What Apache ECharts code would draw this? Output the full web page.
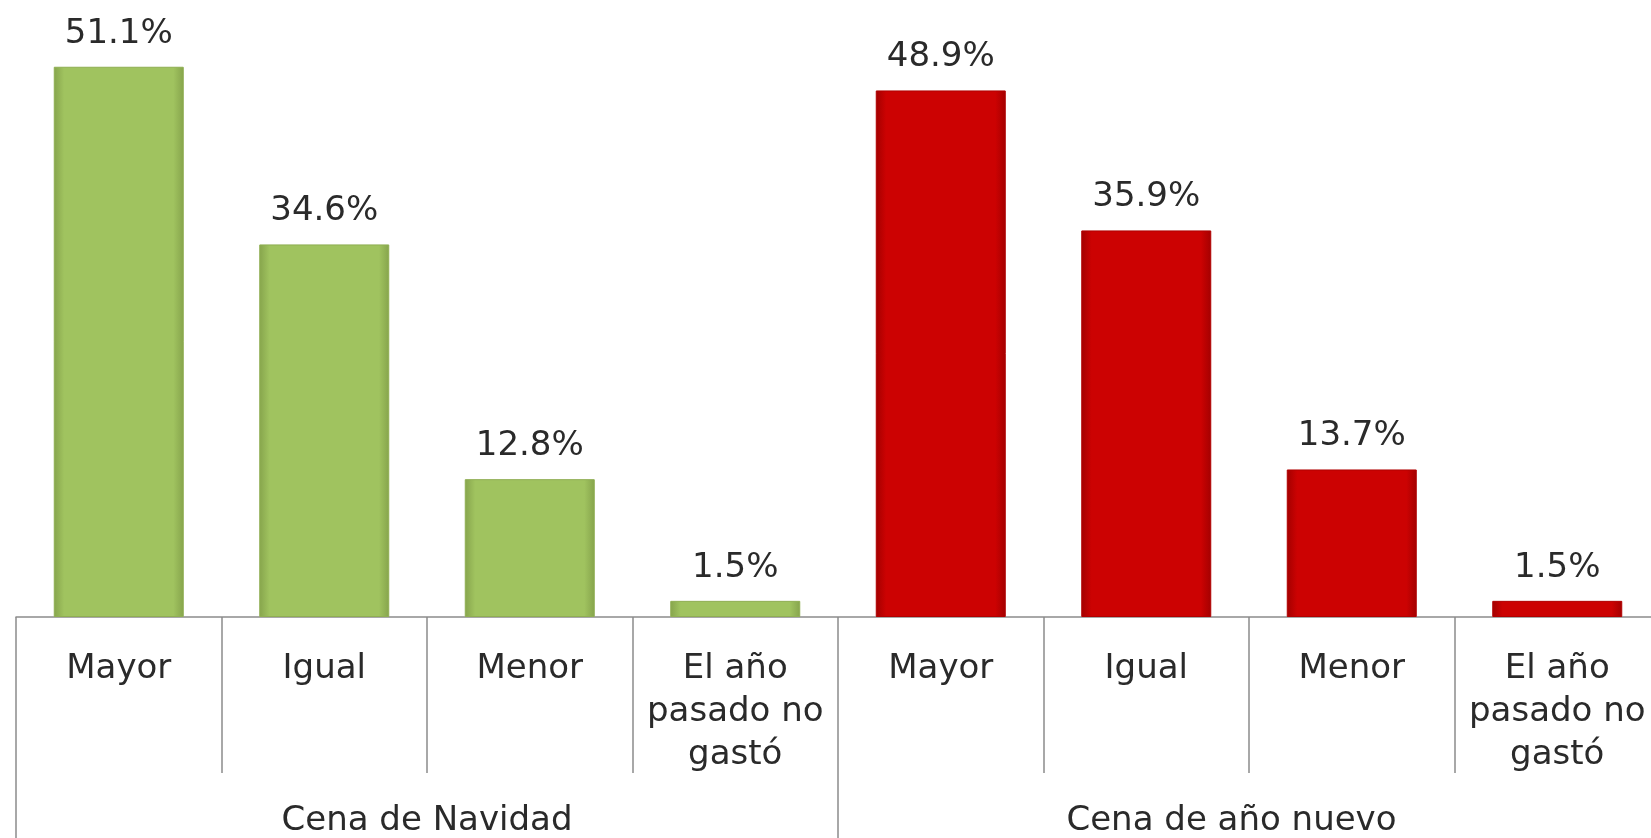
<!DOCTYPE html>
<html>
<head>
<meta charset="utf-8">
<script src="https://cdn.jsdelivr.net/npm/echarts@6/dist/echarts.min.js"></script>
<style>
  html, body { margin: 0; padding: 0; background: #fff; overflow: hidden; }
  #chart { width: 1651px; height: 838px; }
</style>
</head>
<body>
<div id="chart"></div>
<script>
// datos del gráfico
const categories = ['Mayor', 'Igual', 'Menor', 'El año\npasado no\ngastó',
                    'Mayor', 'Igual', 'Menor', 'El año\npasado no\ngastó'];
const groups = ['Cena de Navidad', 'Cena de año nuevo'];
const navidadValues = [51.1, 34.6, 12.8, 1.5];
const anoNuevoValues = [48.9, 35.9, 13.7, 1.5];

const chart = echarts.init(document.getElementById('chart'));

// cada serie ocupa solo su grupo, el resto queda vacío
const navidadData = navidadValues.concat(anoNuevoValues.map(() => '-'));
const anoNuevoData = navidadValues.map(() => '-').concat(anoNuevoValues);

const fontFamily = '"DejaVu Sans", Verdana, sans-serif';
const textColor = '#2a2a2a';
const lineColor = '#8c8c8c';

function sideGradient(edge, mid) {
  return new echarts.graphic.LinearGradient(0, 0, 1, 0, [
    { offset: 0, color: edge },
    { offset: 0.08, color: mid },
    { offset: 0.92, color: mid },
    { offset: 1, color: edge }
  ]);
}

const labelStyle = {
  show: true,
  position: 'top',
  distance: 13,
  fontFamily: fontFamily,
  fontSize: 34,
  lineHeight: 40,
  color: textColor,
  formatter: (p) => p.value.toFixed(1) + '%'
};

chart.setOption({
  animation: false,
  // la rejilla sigue un poco más allá del borde derecho, como en el original
  grid: { left: 16, width: 1644, top: 0, height: 617, outerBoundsMode: 'none', containLabel: false },
  xAxis: [
    {
      type: 'category',
      data: categories,
      position: 'bottom',
      axisLine: { show: true, lineStyle: { color: lineColor, width: 1.5 } },
      axisTick: { show: true, interval: 0, length: 156, lineStyle: { color: lineColor, width: 1.5 } },
      axisLabel: {
        interval: 0,
        margin: 31,
        fontFamily: fontFamily,
        fontSize: 34,
        lineHeight: 43,
        color: textColor
      }
    },
    {
      type: 'category',
      data: groups.map((g, i) => i === 1 ? { value: g, textStyle: { padding: [0, 35, 0, 0] } } : g),
      position: 'bottom',
      axisLine: { show: false },
      axisTick: { show: true, interval: 0, length: 221, lineStyle: { color: lineColor, width: 1.5 } },
      axisLabel: {
        interval: 0,
        margin: 184,
        fontFamily: fontFamily,
        fontSize: 34,
        lineHeight: 40,
        color: textColor
      }
    }
  ],
  yAxis: {
    type: 'value',
    min: 0,
    max: 57.3,
    show: false,
    splitLine: { show: false }
  },
  series: [
    {
      name: 'Cena de Navidad',
      type: 'bar',
      xAxisIndex: 0,
      barWidth: 130,
      barGap: '-100%',
      data: navidadData,
      itemStyle: {
        color: sideGradient('#86a44c', '#a0c35f'),
        borderColor: '#8fae52',
        borderWidth: 1
      },
      label: labelStyle
    },
    {
      name: 'Cena de año nuevo',
      type: 'bar',
      xAxisIndex: 0,
      barWidth: 130,
      barGap: '-100%',
      data: anoNuevoData,
      itemStyle: {
        color: sideGradient('#a30000', '#cc0202'),
        borderColor: '#b00000',
        borderWidth: 1
      },
      label: labelStyle
    }
  ]
});
</script>
</body>
</html>
